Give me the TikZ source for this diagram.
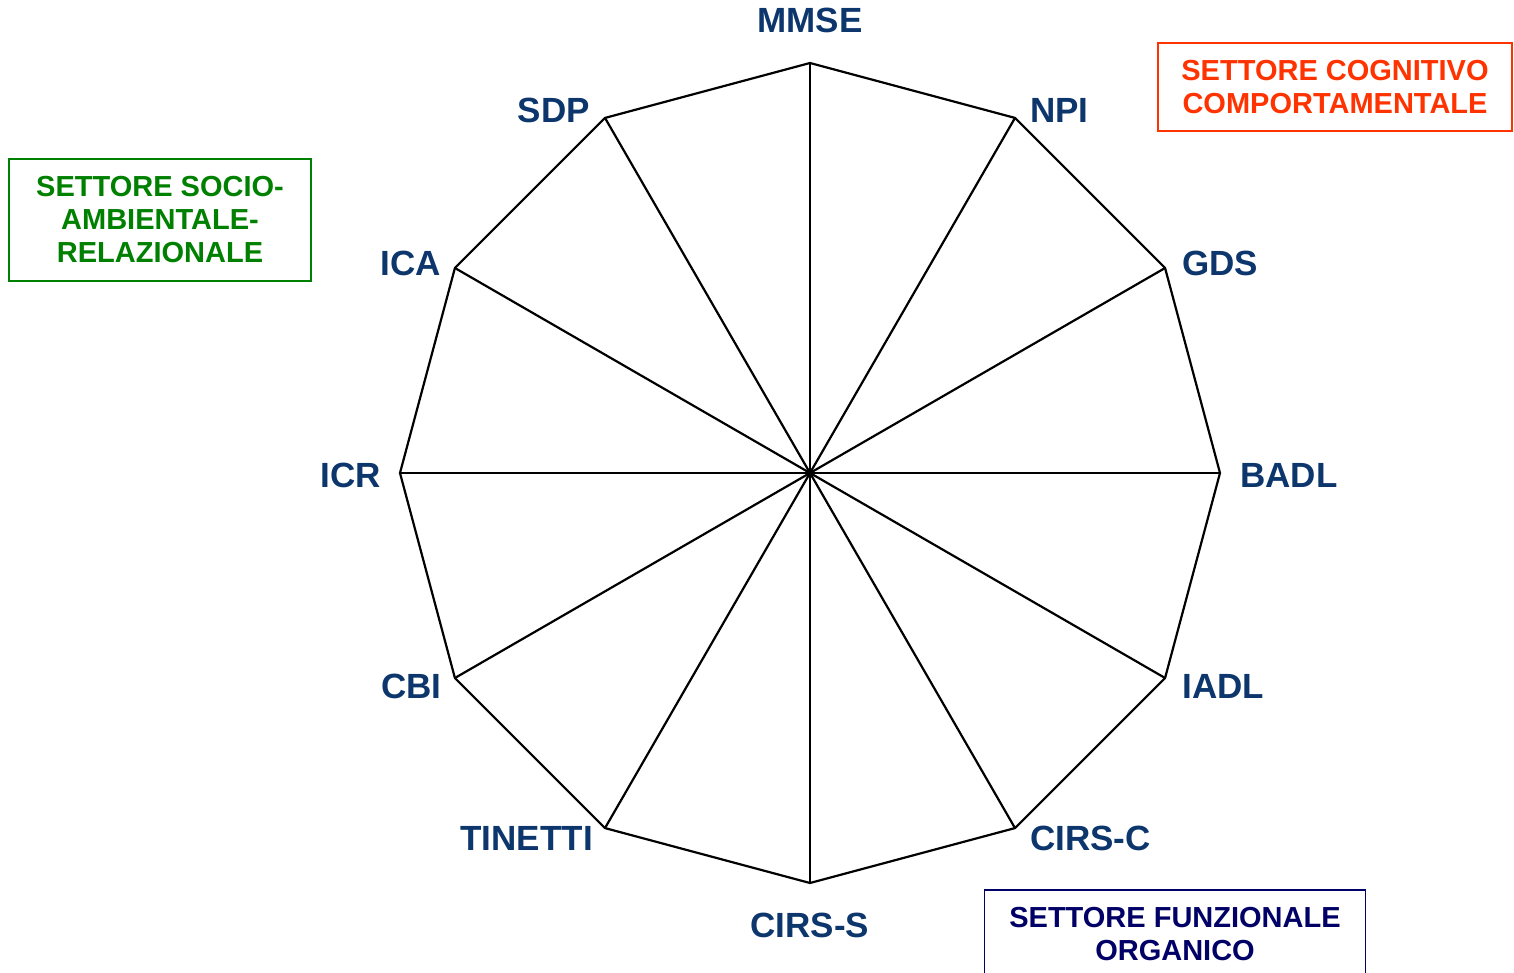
\documentclass[tikz,border=0pt]{standalone}
\usepackage{fontspec}
\setmainfont{Liberation Sans}
\usetikzlibrary{positioning}

\definecolor{labblue}{RGB}{12,54,108}
\definecolor{cogred}{RGB}{255,51,0}
\definecolor{socgreen}{RGB}{0,128,0}
\definecolor{funnavy}{RGB}{0,0,102}

\tikzset{
  lab/.style={inner sep=0pt,text=labblue,font=\fontsize{35}{42}\selectfont\bfseries},
  sector/.style={draw,line width=1.8pt,inner sep=0pt,align=center,
                 font=\fontsize{29}{33}\selectfont\bfseries},
  spoke/.style={line width=2.2pt,line join=round}
}

\begin{document}
\begin{tikzpicture}[x=1pt,y=1pt]
   \useasboundingbox (-810,-499) rectangle (704,473);

   \coordinate (c) at (0,0);
   \coordinate (v0)  at (90:410);
   \coordinate (v1)  at (60:410);
   \coordinate (v2)  at (30:410);
   \coordinate (v3)  at (0:410);
   \coordinate (v4)  at (-30:410);
   \coordinate (v5)  at (-60:410);
   \coordinate (v6)  at (-90:410);
   \coordinate (v7)  at (-120:410);
   \coordinate (v8)  at (-150:410);
   \coordinate (v9)  at (180:410);
   \coordinate (v10) at (150:410);
   \coordinate (v11) at (120:410);

   \draw[spoke] (v0) -- (v1) -- (v2) -- (v3) -- (v4) -- (v5) -- (v6)
                -- (v7) -- (v8) -- (v9) -- (v10) -- (v11) -- cycle;

   \path[spoke,draw]
      (c) edge (v0)  edge (v1)  edge (v2)  edge (v3)
          edge (v4)  edge (v5)  edge (v6)  edge (v7)
          edge (v8)  edge (v9)  edge (v10) edge (v11);

   \node[lab,name=mmse,above=30pt of v0] {MMSE};
   \node[lab,name=npi,right=15pt of v1,yshift=7pt] {NPI};
   \node[lab,name=gds,right=17pt of v2,yshift=5pt] {GDS};
   \node[lab,name=badl,right=20pt of v3,yshift=-2pt] {BADL};
   \node[lab,name=iadl,right=17pt of v4,yshift=-8pt] {IADL};
   \node[lab,name=cirsc,right=15pt of v5,yshift=-10pt] {CIRS-C};
   \node[lab,name=cirss,below=30pt of v6] {CIRS-S};
   \node[lab,name=tinetti,left=12pt of v7,yshift=-10pt] {TINETTI};
   \node[lab,name=cbi,left=13pt of v8,yshift=-8pt] {CBI};
   \node[lab,name=icr,left=19pt of v9,yshift=-2pt] {ICR};
   \node[lab,name=ica,left=14pt of v10,yshift=5pt] {ICA};
   \node[lab,name=sdp,left=15pt of v11,yshift=7pt] {SDP};

   \node[sector,name=cog,draw=cogred,text=cogred,
         minimum width=354pt,minimum height=88pt] at (525,386)
         {SETTORE COGNITIVO\\COMPORTAMENTALE};
   \node[sector,name=soc,draw=socgreen,text=socgreen,
         minimum width=302pt,minimum height=122pt] at (-650,253)
         {SETTORE SOCIO-\\AMBIENTALE-\\RELAZIONALE};
   \node[sector,name=fun,draw=funnavy,text=funnavy,
         minimum width=381pt,minimum height=88pt] at (365,-461)
         {SETTORE FUNZIONALE\\ORGANICO};
\end{tikzpicture}
\end{document}
